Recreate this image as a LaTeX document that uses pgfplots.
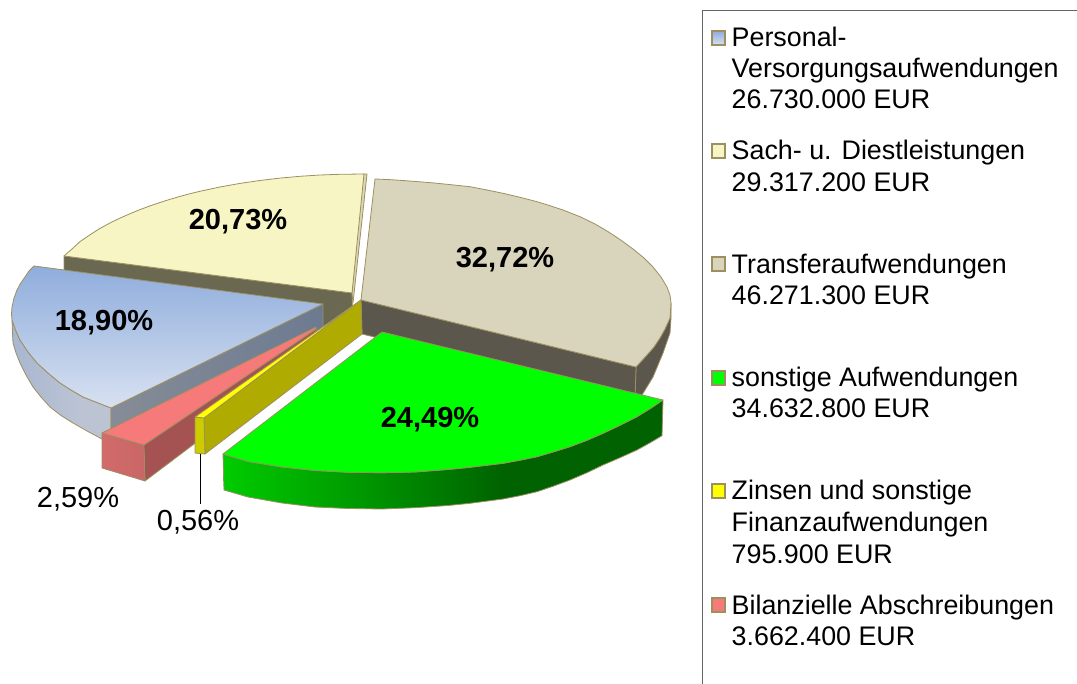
\documentclass[border=0pt]{standalone}
\usepackage{fontspec}
\setmainfont{Liberation Sans}
\usepackage{pgfplots}
\pgfplotsset{compat=1.18}
\definecolor{edge}{HTML}{9C8F60}
\definecolor{creamtop}{HTML}{F6F5C3}
\definecolor{creamwall}{HTML}{6A6850}
\definecolor{creamside}{HTML}{DAD7B4}
\definecolor{beigetop}{HTML}{D9D4BC}
\definecolor{beigewall}{HTML}{5C574C}
\definecolor{redtop}{HTML}{F67A7A}
\definecolor{redin}{HTML}{A55252}
\definecolor{yeltop}{HTML}{FFFF00}
\definecolor{yelfront}{HTML}{CCCC00}
\definecolor{yelin}{HTML}{AFAB00}
\definecolor{legline}{HTML}{666666}
\definecolor{b1}{HTML}{8FADDC}\definecolor{b2}{HTML}{D8E1F1}
\pgfdeclareverticalshading{bluetop}{100bp}{color(0bp)=(b2);color(25bp)=(b2);color(75bp)=(b1);color(100bp)=(b1)}
\definecolor{bo1}{HTML}{A8B6D0}\definecolor{bo2}{HTML}{BCC4D4}
\pgfdeclarehorizontalshading{blueout}{100bp}{color(0bp)=(bo1);color(25bp)=(bo1);color(60bp)=(bo2);color(100bp)=(bo2)}
\definecolor{bi1}{HTML}{868C97}\definecolor{bi2}{HTML}{6C7A91}
\pgfdeclarehorizontalshading{bluein}{100bp}{color(0bp)=(bi1);color(25bp)=(bi1);color(75bp)=(bi2);color(100bp)=(bi2)}
\definecolor{g1}{HTML}{00CC00}\definecolor{g2}{HTML}{006200}\definecolor{g3}{HTML}{006200}
\pgfdeclarehorizontalshading{greenout}{100bp}{color(0bp)=(g1);color(25bp)=(g1);color(57bp)=(g2);color(75bp)=(g3);color(100bp)=(g3)}
\definecolor{r1}{HTML}{C96666}\definecolor{r2}{HTML}{D26B6B}
\pgfdeclarehorizontalshading{redout}{100bp}{color(0bp)=(r2);color(25bp)=(r2);color(75bp)=(r1);color(100bp)=(r1)}
\tikzset{slice/.style={draw=edge,line width=0.8pt,line join=round}}
\newcommand{\legtext}[2]{\node[anchor=base west,inner sep=0pt,font=\fontsize{26.85pt}{30pt}\selectfont] at (axis cs:731.5,#1) {#2};}
\newcommand{\pct}[3]{\node[anchor=center,inner sep=0pt,font=\fontsize{29pt}{32pt}\selectfont\bfseries] at (axis cs:#1,#2) {#3};}
\newcommand{\pctr}[3]{\node[anchor=center,inner sep=0pt,font=\fontsize{29pt}{32pt}\selectfont] at (axis cs:#1,#2) {#3};}
\begin{document}
\begin{tikzpicture}[x=1pt,y=1pt]
\useasboundingbox (0,0) rectangle (1077pt,684pt);
\begin{axis}[at={(0,0)},anchor=south west,scale only axis,width=1077pt,height=684pt,
 xmin=0,xmax=1077,ymin=0,ymax=684,y dir=reverse,hide axis,clip=false]
% Sach- u. Dienstleistungen
\addplot[slice,fill=creamwall] coordinates {(64,256)(352,293)(353,331)(64,292)} --cycle;
\addplot[slice,fill=creamside] coordinates {(363,174)(367,174)(353,303)(352,293)} --cycle;
\addplot[slice,fill=creamtop] coordinates {(352,293)(64,256)(72,249)(80,241.6)(90,234.8)(100,228.4)(110,223)(120,218.1)(130,213.7)(140,209.6)(150,205.9)(160,202.5)(170,199.3)(180,196.4)(190,193.7)(200,191.3)(220,187)(240,183.4)(260,180.5)(280,178.1)(300,176.3)(320,175)(340,174.3)(364,174)} --cycle;
% Transferaufwendungen
\addplot[slice,fill=beigewall] coordinates {(671,303)(670.5,311)(670,318)(665,329)(660,338)(654,347)(647,355)(636,367)(635,395)(642,395)(653,377)(663,353)(670,333)(671,318)} --cycle;
\addplot[slice,fill=beigewall] coordinates {(361,300)(636,367)(635,401)(362,334)} --cycle;
\addplot[slice,fill=beigetop] coordinates {(361,300)(375,179)(391,179.7)(407,180.8)(432,182.8)(450,184.6)(470,186.7)(487,190)(503,193.3)(520,197.3)(537,201.7)(550,205.7)(563,210)(580,216.7)(595,224)(607,231)(620,239.5)(633,249)(644,258)(653,267)(661,277)(667,287)(670,295)(671,303)(670.5,311)(670,318)(665,329)(660,338)(654,347)(647,355)(636,367)} --cycle;
% Personal
\addplot[slice,shade,shading=blueout] coordinates {(12,320)(12.5,332)(13,343)(16,353)(20,363)(26,375)(33,387)(41,397)(50,407)(61,415.5)(73,423)(87,431)(102,439)(111,443)(111,408)(97,402.5)(83,397)(71,390)(60,383)(48,373)(37,363)(28,352)(20,340)(15.5,330)} --cycle;
\addplot[slice,shade,shading=bluein] coordinates {(111,408)(323,304)(323,340)(111,443)} --cycle;
\addplot[slice,shade,shading=bluetop] coordinates {(323,304)(34,266)(29,271)(25,277)(20.5,283.5)(17,290)(14,298)(12,307)(11.5,314)(12,320)(15.5,330)(20,340)(28,352)(37,363)(48,373)(60,383)(71,390)(83,397)(97,402.5)(111,408)} --cycle;
% Abschreibungen
\addplot[slice,shade,shading=redout] coordinates {(102,433)(144,445)(145,481)(102,468)} --cycle;
\addplot[slice,fill=redin] coordinates {(144,445)(316,329)(316,352)(145,481)} --cycle;
\addplot[slice,fill=redtop] coordinates {(102,433)(144,445)(316,329)(316,327)} --cycle;
% sonstige
\addplot[slice,shade,shading=greenout] coordinates {(223,454)(224,490)(248,497)(282,503)(315,507)(348,508.5)(382,509)(415,507.7)(448,505.5)(470,503.3)(503,499)(520,495.7)(537,491.7)(553,486.3)(570,480)(587,472.7)(603,465)(620,457.7)(637,450)(650,442.8)(662,435.7)(663,400)(650,408.7)(637,416.7)(620,425.3)(603,433.3)(587,440.3)(570,446.7)(553,452)(537,456.7)(520,460.2)(503,463.3)(470,467.3)(448,469.5)(415,472)(382,472.7)(348,472.3)(315,470.5)(282,467)(248,461.5)} --cycle;
\addplot[slice,fill=green] coordinates {(382,332)(663,400)(650,408.7)(637,416.7)(620,425.3)(603,433.3)(587,440.3)(570,446.7)(553,452)(537,456.7)(520,460.2)(503,463.3)(470,467.3)(448,469.5)(415,472)(382,472.7)(348,472.3)(315,470.5)(282,467)(248,461.5)(223,454)} --cycle;
% Zinsen
\addplot[black,line width=1.5pt] coordinates {(200.5,454)(200.5,504)};
\addplot[slice,fill=yelin] coordinates {(204,418)(361,300)(362,334)(205,454)} --cycle;
\addplot[slice,fill=yelfront] coordinates {(195,417)(204,418)(205,454)(195,453)} --cycle;
\addplot[slice,fill=yeltop] coordinates {(195,417)(204,418)(361,300)} --cycle;
% legend frame
\addplot[legline,line width=0.9pt] coordinates {(1077,10.5)(702.5,10.5)(702.5,684)};
% legend keys
\addplot[draw=edge,line width=2pt,shade,shading=bluetop] coordinates {(711.5,31)(724.5,31)(724.5,45)(711.5,45)} --cycle;
\addplot[draw=edge,line width=2pt,fill=creamtop] coordinates {(711.5,144)(724.5,144)(724.5,158)(711.5,158)} --cycle;
\addplot[draw=edge,line width=2pt,fill=beigetop] coordinates {(711.5,257)(724.5,257)(724.5,271)(711.5,271)} --cycle;
\addplot[draw=edge,line width=2pt,fill=green] coordinates {(711.5,371)(724.5,371)(724.5,385)(711.5,385)} --cycle;
\addplot[draw=edge,line width=2pt,fill=yeltop] coordinates {(711.5,484)(724.5,484)(724.5,498)(711.5,498)} --cycle;
\addplot[draw=edge,line width=2pt,fill=redtop] coordinates {(711.5,598)(724.5,598)(724.5,612)(711.5,612)} --cycle;
\legtext{47}{Personal-}
\legtext{78}{Versorgungsaufwendungen}
\legtext{109}{26.730.000 EUR}
\legtext{160}{Sach- u. Diestleistungen}
\legtext{192}{29.317.200 EUR}
\legtext{274}{Transferaufwendungen}
\legtext{305}{46.271.300 EUR}
\legtext{387}{sonstige Aufwendungen}
\legtext{418}{34.632.800 EUR}
\legtext{500}{Zinsen und sonstige}
\legtext{531}{Finanzaufwendungen}
\legtext{563}{795.900 EUR}
\legtext{614}{Bilanzielle Abschreibungen}
\legtext{645}{3.662.400 EUR}
\pct{238}{221.5}{20,73\%}
\pct{104}{322.5}{18,90\%}
\pct{505}{259.5}{32,72\%}
\pct{430}{419.5}{24,49\%}
\pctr{78}{499.5}{2,59\%}
\pctr{198}{522.5}{0,56\%}
\end{axis}
\end{tikzpicture}
\end{document}
